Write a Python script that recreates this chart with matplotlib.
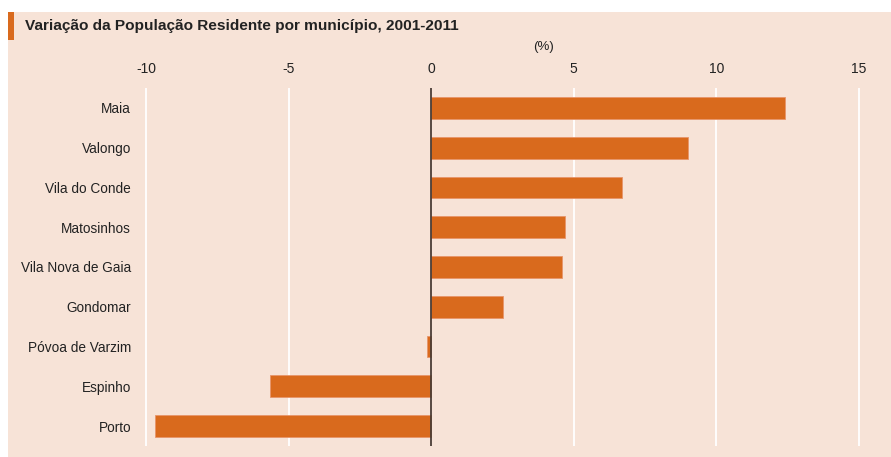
import matplotlib
matplotlib.use("Agg")
import matplotlib.pyplot as plt
from matplotlib.patches import Rectangle

plt.rcParams['font.family'] = ['Liberation Sans', 'DejaVu Sans']

municipios = ["Maia", "Valongo", "Vila do Conde", "Matosinhos", "Vila Nova de Gaia",
              "Gondomar", "Póvoa de Varzim", "Espinho", "Porto"]
variacao = [12.4, 9.0, 6.7, 4.7, 4.6, 2.5, -0.15, -5.65, -9.7]
xticks = [-10, -5, 0, 5, 10, 15]
title = "Variação da População Residente por município, 2001-2011"
unit = "(%)"

bg = "#f7e3d7"
bar_c = "#d96a1d"

W, H = 891, 457
fig = plt.figure(figsize=(W/100, H/100), dpi=100, facecolor="white")
fig.patches.append(Rectangle((8/W, 0), 1 - 8/W, 1 - 12/H, transform=fig.transFigure,
                             facecolor=bg, edgecolor="none", zorder=-10))
fig.patches.append(Rectangle((8/W, 1 - 40/H), 6/W, 28/H, transform=fig.transFigure,
                             facecolor=bar_c, edgecolor="none", zorder=-9))
fig.text(25/W, 1 - 26/H, title, fontsize=11.1, fontweight="bold", color="#222222",
         va="center", ha="left")
fig.text(543/W, 1 - 47/H, unit, fontsize=9.5, color="#222222", va="center", ha="center")

ppu = (859 - 146) / 25.0
left_px = 146 - ppu
right_px = 859 + ppu
ax = fig.add_axes([left_px/W, 11/H, (right_px - left_px)/W, (446 - 88)/H])
ax.set_zorder(5)
ax.set_facecolor("none")
ax.set_xlim(-11, 16)
ypos = list(range(len(municipios)))
ax.set_ylim(len(municipios) - 0.5, -0.5)

for x in xticks:
    ax.axvline(x, color="white", lw=1.3, zorder=1)
ax.barh(ypos, variacao, height=0.55, color=bar_c, edgecolor="#e8956a", linewidth=0.6, zorder=2)
ax.axvline(0, color="#4a3b33", lw=1.3, zorder=3)

ax.set_xticks(xticks)
ax.set_xticklabels([str(x) for x in xticks])
ax.xaxis.tick_top()
ax.tick_params(axis="x", length=0, pad=8.5, labelsize=10, labelcolor="#222222")
ax.set_yticks(ypos)
ax.set_yticklabels(municipios)
ax.tick_params(axis="y", length=0, pad=-(131 - left_px) * 0.72, labelsize=9.8, labelcolor="#222222")
for s in ax.spines.values():
    s.set_visible(False)

fig.savefig("out.png", dpi=100, facecolor="white")
